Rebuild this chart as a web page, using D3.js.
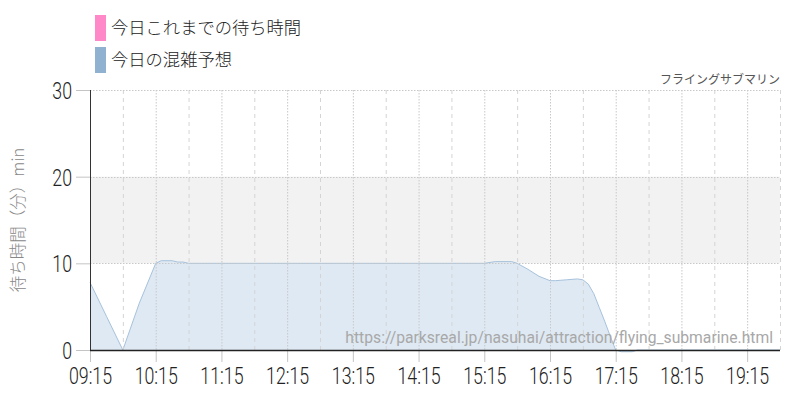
<!DOCTYPE html>
<html><head><meta charset="utf-8">
<script src="https://cdn.jsdelivr.net/npm/d3@7"></script>
<style>
html,body{margin:0;padding:0;background:#fff;}
svg{display:block;}
</style></head>
<body>
<svg id="chart" width="800" height="400"></svg>
<script>
// ---- data ----
const legendLabels = ["今日これまでの待ち時間", "今日の混雑予想"];
const legendColors = ["#ff88c8", "#90b2d0"];
const chartTitle = "フライングサブマリン";
const yAxisTitle = "待ち時間（分）min";
const sourceText = "https://parksreal.jp/nasuhai/attraction/flying_submarine.html";
const yTicks = [0, 10, 20, 30];
const xTickLabels = ["09:15","10:15","11:15","12:15","13:15","14:15","15:15","16:15","17:15","18:15","19:15"];
const xGridHalf = ["09:45","10:45","11:45","12:45","13:45","14:45","15:45","16:45","17:45","18:45","19:45"];
const forecastTimes = ["09:15","09:30","09:45","10:00","10:15","10:20","10:30","10:35","10:40","10:45","11:15","12:15","13:15","14:15","15:15","15:25","15:40","15:45","15:55","16:05","16:15","16:20","16:30","16:40","16:45","16:50","16:55","17:00","17:05","17:10","17:15","17:20","17:30","17:35","18:15","19:15","19:45"];
const forecastValues = [7.8,3.9,0,5.4,10.0,10.3,10.3,10.15,10.15,10.0,10.0,10.0,10.0,10.0,10.0,10.2,10.2,10.0,9.3,8.5,8.0,8.0,8.1,8.2,8.1,7.6,6.5,4.9,3.3,1.6,0,-0.2,-0.2,0,0,0,0];
const bandRange = [10, 20];

// ---- helpers ----
const toMin = s => { const [h, m] = s.split(":").map(Number); return h * 60 + m; };
const svg = d3.select("#chart");
const W = 800, H = 400;
const m = {left: 90, right: 20, top: 90, bottom: 50};

const x = d3.scaleLinear().domain([toMin("09:15"), toMin("19:45")]).range([m.left, W - m.right]);
const y = d3.scaleLinear().domain([0, 30]).range([H - m.bottom, m.top]);

// band 10-20
svg.append("rect")
  .attr("x", x.range()[0]).attr("width", x.range()[1] - x.range()[0])
  .attr("y", y(bandRange[1])).attr("height", y(bandRange[0]) - y(bandRange[1]))
  .attr("fill", "#f2f2f2");

// area
const data = forecastTimes.map((t, i) => ({t: toMin(t), v: forecastValues[i]}));
const area = d3.area().x(d => x(d.t)).y0(y(0)).y1(d => y(d.v)).curve(d3.curveLinear);
const line = d3.line().x(d => x(d.t)).y(d => y(d.v)).curve(d3.curveLinear);
svg.append("path").datum(data).attr("d", area).attr("fill", "#dfe9f3");
svg.append("path").datum(data).attr("d", line).attr("fill", "none").attr("stroke", "#a6c2dc").attr("stroke-width", 1);

// vertical grid half-hours (dashed)
svg.append("g").selectAll("line").data(xGridHalf).join("line")
  .attr("x1", d => x(toMin(d)) + 0.5).attr("x2", d => x(toMin(d)) + 0.5)
  .attr("y1", y(30)).attr("y2", y(0))
  .attr("stroke", "#d4d4d4").attr("stroke-dasharray", "4,4");

// vertical grid hours (dotted)
svg.append("g").selectAll("line").data(xTickLabels).join("line")
  .attr("x1", d => x(toMin(d)) + 0.5).attr("x2", d => x(toMin(d)) + 0.5)
  .attr("y1", y(30)).attr("y2", y(0))
  .attr("stroke", "#c8c8c8").attr("stroke-dasharray", "1.5,1.5");

// horizontal grid (dotted)
svg.append("g").selectAll("line").data(yTicks.filter(d => d > 0)).join("line")
  .attr("x1", x.range()[0]).attr("x2", x.range()[1])
  .attr("y1", d => Math.round(y(d)) + 0.5).attr("y2", d => Math.round(y(d)) + 0.5)
  .attr("stroke", "#c8c8c8").attr("stroke-dasharray", "1.5,1.5");

// axes
const tickFont = "Roboto, 'Liberation Sans', sans-serif";
const yAxis = d3.axisLeft(y).tickValues(yTicks).tickSize(14).tickPadding(4).tickFormat(d3.format("d"));
const gy = svg.append("g").attr("transform", `translate(${m.left},0)`).call(yAxis);
gy.select(".domain").remove();
gy.selectAll(".tick line").attr("stroke", "#c4c4c4");
gy.selectAll(".tick text")
  .attr("font-family", tickFont).attr("font-size", 24).attr("font-weight", 300).attr("fill", "#222")
  .attr("x", null).attr("dy", "0.36em")
  .attr("transform", "translate(-18,0) scale(0.74,1)");

const xAxis = d3.axisBottom(x).tickValues(xTickLabels.map(toMin)).tickSize(12).tickPadding(4)
  .tickFormat((d, i) => xTickLabels[i]);
const gx = svg.append("g").attr("transform", `translate(0,${y(0)})`).call(xAxis);
gx.select(".domain").remove();
gx.selectAll(".tick line").attr("stroke", "#c4c4c4");
gx.selectAll(".tick text")
  .attr("font-family", tickFont).attr("font-size", 24).attr("font-weight", 300).attr("fill", "#222")
  .attr("y", null).attr("dy", null)
  .attr("transform", "translate(0,34) scale(0.74,1)");

// axis lines
svg.append("line").attr("x1", m.left + 0.5).attr("x2", m.left + 0.5).attr("y1", y(30)).attr("y2", y(0))
  .attr("stroke", "#333").attr("stroke-width", 1);
svg.append("line").attr("x1", m.left).attr("x2", x.range()[1]).attr("y1", y(0) + 0.5).attr("y2", y(0) + 0.5)
  .attr("stroke", "#222").attr("stroke-width", 1.5);

// legend
const lg = svg.append("g").selectAll("g").data(legendLabels).join("g")
  .attr("transform", (d, i) => `translate(95,${15 + i * 32})`);
lg.append("rect").attr("width", 11).attr("height", 26).attr("fill", (d, i) => legendColors[i]);
lg.append("text").attr("x", 16).attr("y", 13).attr("dy", "0.36em")
  .attr("font-family", "'Noto Sans CJK JP', sans-serif").attr("font-size", 17.3).attr("font-weight", 300).attr("fill", "#222")
  .text(d => d);

// title
svg.append("text").attr("x", 780).attr("y", 84).attr("text-anchor", "end")
  .attr("font-family", "'Noto Sans CJK JP', sans-serif").attr("font-size", 12).attr("fill", "#555")
  .text(chartTitle);

// y axis title
svg.append("text").attr("transform", "translate(24,220) rotate(-90)").attr("text-anchor", "middle")
  .attr("font-family", "'Noto Sans CJK JP', sans-serif").attr("font-size", 16.5).attr("font-weight", 300).attr("fill", "#888")
  .text(yAxisTitle);

// source watermark
svg.append("text").attr("x", 773).attr("y", 343).attr("text-anchor", "end")
  .attr("font-family", "Roboto, sans-serif").attr("font-size", 15.7).attr("fill", "#a8a8a8")
  .text(sourceText);
</script>
</body></html>
